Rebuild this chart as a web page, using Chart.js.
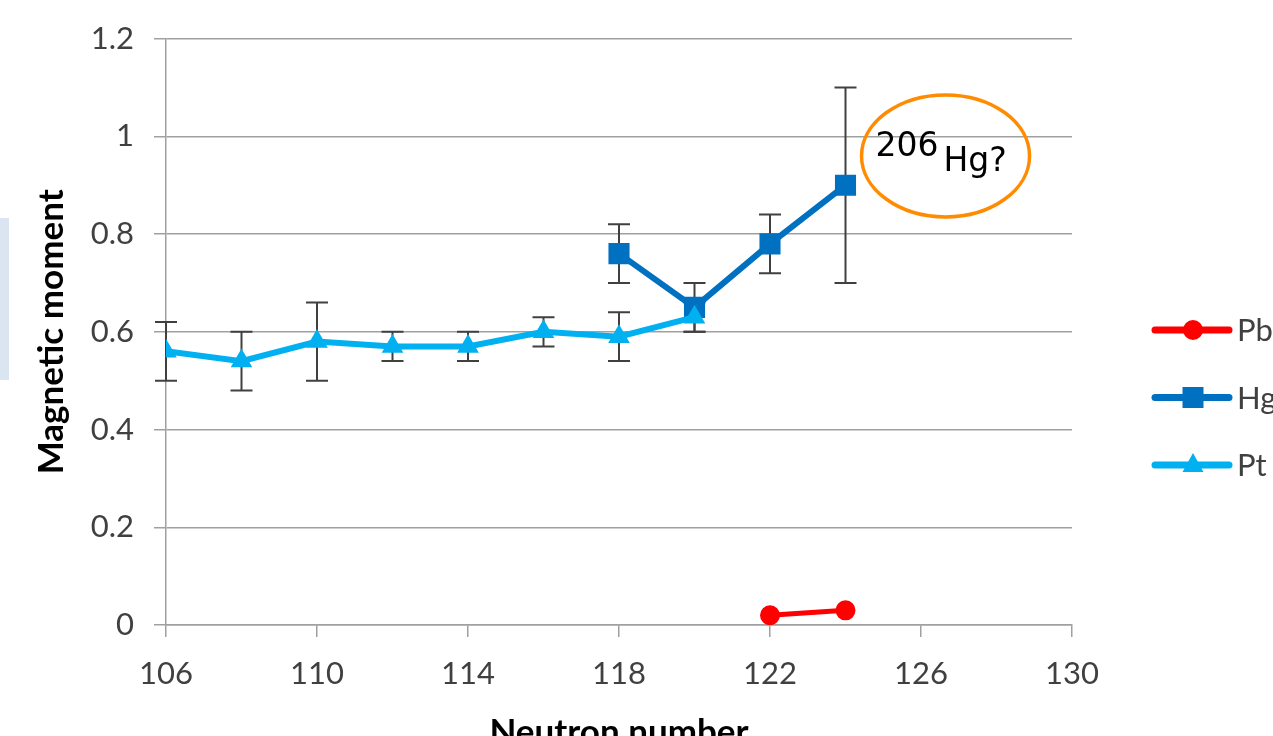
<!DOCTYPE html>
<html>
<head>
<meta charset="utf-8">
<script src="https://cdn.jsdelivr.net/npm/chart.js@4.4.1/dist/chart.umd.min.js"></script>
<style>
  html, body { margin: 0; padding: 0; background: #fff; overflow: hidden; }
  #wrap { position: relative; width: 1273px; height: 736px; overflow: hidden; background: #fff; }
  #side { position: absolute; left: 0; top: 218px; width: 9px; height: 162px; background: #dbe5f1; }
  #c { position: absolute; left: 0; top: 0; }
</style>
</head>
<body>
<div id="wrap">
  <div id="side"></div>
  <canvas id="c" width="1310" height="770"></canvas>
</div>
<script>
// Magnetic moments of even-N isotopes vs neutron number
const ptNeutrons = [106, 108, 110, 112, 114, 116, 118, 120];
const ptMoment   = [0.56, 0.54, 0.58, 0.57, 0.57, 0.60, 0.59, 0.63];
const ptError    = [0.06, 0.06, 0.08, 0.03, 0.03, 0.03, 0.05, 0.03];

const hgNeutrons = [118, 120, 122, 124];
const hgMoment   = [0.76, 0.65, 0.78, 0.90];
const hgError    = [0.06, 0.05, 0.06, 0.20];

const pbNeutrons = [122, 124];
const pbMoment   = [0.02, 0.03];
const pbError    = [0, 0];

const seriesNames = ['Pt', 'Hg', 'Pb'];
const legendOrder = ['Pb', 'Hg', 'Pt'];

// Callout for the predicted isotope
const calloutPos = { n: 126.65, moment: 0.96 };
const calloutMass = '206';
const calloutSymbol = 'Hg?';

const colors = { Pt: '#00b0f0', Hg: '#0070c0', Pb: '#ff0000' };
const styles = { Pt: 'triangle', Hg: 'rect', Pb: 'circle' };

const toPoints = (xs, ys) => xs.map((x, i) => ({ x, y: ys[i] }));

const tickFont = { family: 'Lato', size: 31 };
const titleFont = { family: 'Lato', size: 35, weight: 'bold' };
const gridColor = '#a0a0a0';

// Vertical error bars with caps, drawn beneath the series
const errorBars = {
  id: 'errorBars',
  beforeDatasetsDraw(chart) {
    const { ctx, scales: { x, y } } = chart;
    ctx.save();
    ctx.strokeStyle = '#404040';
    ctx.lineWidth = 2;
    chart.data.datasets.forEach(ds => {
      ds.data.forEach((p, i) => {
        const e = ds.errors[i];
        if (!e) return;
        const px = x.getPixelForValue(p.x);
        const top = y.getPixelForValue(p.y + e);
        const bot = y.getPixelForValue(p.y - e);
        ctx.beginPath();
        ctx.moveTo(px, top); ctx.lineTo(px, bot);
        ctx.moveTo(px - 11, top); ctx.lineTo(px + 11, top);
        ctx.moveTo(px - 11, bot); ctx.lineTo(px + 11, bot);
        ctx.stroke();
      });
    });
    ctx.restore();
  }
};

function marker(ctx, style, cx, cy, color) {
  ctx.fillStyle = color;
  ctx.beginPath();
  if (style === 'circle') {
    ctx.arc(cx, cy, 10, 0, Math.PI * 2);
  } else if (style === 'rect') {
    ctx.rect(cx - 10.5, cy - 10.5, 21, 21);
  } else {
    ctx.moveTo(cx, cy - 12);
    ctx.lineTo(cx + 10.5, cy + 7);
    ctx.lineTo(cx - 10.5, cy + 7);
    ctx.closePath();
  }
  ctx.fill();
}

// Line-and-marker legend to the right of the plot
const sideLegend = {
  id: 'sideLegend',
  afterDraw(chart) {
    const { ctx, chartArea } = chart;
    const x0 = chartArea.right + 83;
    ctx.save();
    legendOrder.forEach((name, i) => {
      const cy = 330 + i * 67.5;
      ctx.strokeStyle = colors[name];
      ctx.lineWidth = 7;
      ctx.lineCap = 'round';
      ctx.beginPath();
      ctx.moveTo(x0, cy); ctx.lineTo(x0 + 74, cy);
      ctx.stroke();
      marker(ctx, styles[name], x0 + 38, cy, colors[name]);
      ctx.fillStyle = '#404040';
      ctx.font = '31px Lato';
      ctx.textBaseline = 'middle';
      ctx.textAlign = 'left';
      ctx.fillText(name, x0 + 82, cy + 1);
    });
    ctx.restore();
  }
};

// Orange ellipse with the isotope label
const callout = {
  id: 'callout',
  afterDatasetsDraw(chart) {
    const { ctx, scales: { x, y } } = chart;
    const cx = x.getPixelForValue(calloutPos.n);
    const cy = y.getPixelForValue(calloutPos.moment);
    ctx.save();
    ctx.strokeStyle = '#ff8c00';
    ctx.lineWidth = 3.5;
    ctx.beginPath();
    ctx.ellipse(cx, cy, 84, 61, 0, 0, Math.PI * 2);
    ctx.stroke();
    ctx.fillStyle = '#000';
    ctx.font = '33px "DejaVu Sans"';
    ctx.textBaseline = 'alphabetic';
    ctx.textAlign = 'left';
    ctx.fillText(calloutMass, cx - 70, cy);
    ctx.fillText(calloutSymbol, cx - 2, cy + 15);
    ctx.restore();
  }
};

const datasets = [
  { label: seriesNames[0], data: toPoints(ptNeutrons, ptMoment), errors: ptError },
  { label: seriesNames[1], data: toPoints(hgNeutrons, hgMoment), errors: hgError },
  { label: seriesNames[2], data: toPoints(pbNeutrons, pbMoment), errors: pbError }
].map(ds => {
  const c = colors[ds.label];
  const common = {
    borderColor: c, backgroundColor: c,
    pointBackgroundColor: c, pointBorderColor: c,
    pointStyle: styles[ds.label], pointBorderWidth: 2,
    borderWidth: 6, tension: 0, fill: false
  };
  if (ds.label === 'Pt') Object.assign(common, { pointRadius: 10.5 });
  if (ds.label === 'Hg') Object.assign(common, { pointRadius: 13.5 });
  if (ds.label === 'Pb') Object.assign(common, { pointRadius: 9, borderWidth: 5 });
  return Object.assign(ds, common);
});

new Chart(document.getElementById('c'), {
  type: 'line',
  data: { datasets },
  options: {
    responsive: false,
    animation: false,
    devicePixelRatio: 1,
    layout: { padding: { top: 38, right: 238, bottom: 0, left: 0 } },
    plugins: { legend: { display: false }, tooltip: { enabled: false } },
    scales: {
      x: {
        type: 'linear',
        min: 106, max: 130,
        afterFit: s => { s.height = 145; },
        ticks: { stepSize: 4, font: tickFont, color: '#404040', padding: 18, maxRotation: 0 },
        grid: { drawOnChartArea: false, drawTicks: true, tickLength: 12, color: gridColor, lineWidth: 1.5 },
        border: { display: true, color: gridColor, width: 1.5 },
        title: { display: true, text: 'Neutron number', font: titleFont, color: '#000', padding: { top: 0, bottom: 16 } }
      },
      y: {
        min: 0, max: 1.2,
        afterFit: s => { s.width = 166; },
        ticks: {
          stepSize: 0.2, font: tickFont, color: '#404040', padding: 20,
          callback: v => String(Number(v.toFixed(2)))
        },
        grid: { drawTicks: true, tickLength: 12, color: gridColor, lineWidth: 1.5 },
        border: { display: true, color: gridColor, width: 1.5 },
        title: { display: true, text: 'Magnetic moment', font: titleFont, color: '#000', padding: { top: 31, bottom: 0 } }
      }
    }
  },
  plugins: [errorBars, callout, sideLegend]
});
</script>
</body>
</html>
